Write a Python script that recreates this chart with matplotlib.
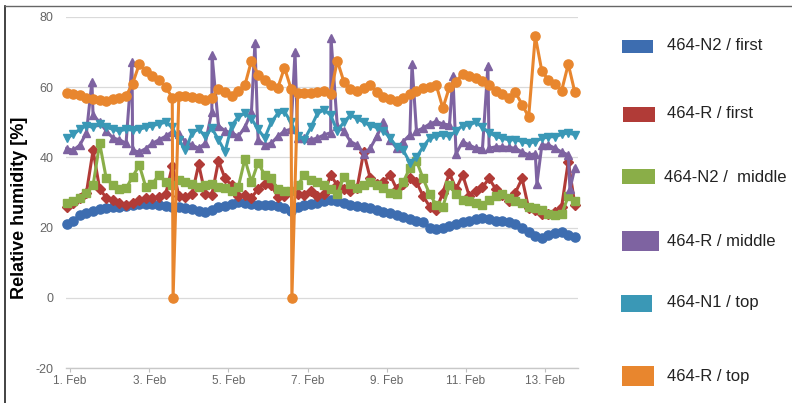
import numpy as np
import matplotlib
matplotlib.use("Agg")
import matplotlib.pyplot as plt
from matplotlib.patches import Rectangle
from matplotlib.lines import Line2D

plt.rcParams['font.family'] = ['Liberation Sans', 'DejaVu Sans']

# ---------------- data ----------------
# readings every 4 hours, starting 31 Jan 22:00 (hours counted from 1 Feb 00:00)
start_hour = -2
step_hours = 4

n2_first = [21, 22, 23.6, 24.2, 24.8, 25.3, 25.5, 26, 26, 26.3,
            26.5, 26.8, 26.8, 26.6, 26.4, 26.2, 26, 25.8, 25.5, 25.3,
            24.8, 24.5, 25, 25.8, 26.2, 26.8, 27.2, 27, 26.8, 26.5,
            26.4, 26.5, 26.2, 25.5, 24.8, 25.8, 26.5, 26.8, 27, 27.5,
            28, 27.5, 27, 26.5, 26.3, 26, 25.5, 25, 24.5, 24.2,
            23.5, 23, 22.5, 22, 21.5, 20, 19.5, 19.8, 20.5, 21,
            21.5, 21.8, 22.5, 22.7, 22.5, 22, 21.8, 21.6, 21, 20,
            18.8, 17.5, 17, 17.8, 18.5, 18.8, 17.8, 17.3]

r_first = [26, 27, 28.5, 30, 42, 31, 28.5, 27.8, 27, 26.5,
           27, 27.8, 28.4, 28.5, 28.7, 29.5, 37.5, 29, 28.7, 29.5,
           38, 29.5, 29.3, 39, 34, 32, 29, 29.3, 28.5, 31,
           32.5, 32, 28.8, 29, 30.3, 29.5, 29.3, 30.5, 29, 29.5,
           35, 32, 31, 30.5, 31.2, 41.5, 34, 32.5, 33, 35,
           31, 32.5, 34, 33, 29, 26, 25, 30, 35.5, 31,
           35, 29, 30.5, 31.5, 34, 31, 29.3, 27.5, 30, 34,
           25.5, 25, 24, 23.8, 24.5, 26, 38.8, 26.5]

n2_middle = [27, 27.5, 28.5, 30, 32, 44, 34, 32.2, 31, 31.2,
             34.5, 37.8, 31.5, 32.5, 35, 33, 32, 33.5, 33, 32.5,
             31.6, 32, 32.5, 31.5, 31.2, 30.5, 31.5, 39.5, 33, 38.5,
             35, 34, 31, 30.5, 30.3, 32, 35, 33.5, 33, 32.2,
             31, 29.5, 34.5, 32.5, 31.2, 32, 33, 32, 31.2, 30,
             29.5, 33, 37, 39, 34, 29.5, 26.5, 26, 32, 29.5,
             28, 27.5, 27, 26.5, 28, 29, 29.5, 28.5, 27.5, 27,
             26, 25.5, 25, 24, 23.6, 23.8, 29, 27.5]

r_middle = [42.5, 42, 43.5, 47, 52, 50, 47.5, 45.5, 45, 44,
            42, 41.5, 42.5, 44, 45, 46, 47.3, 46.5, 44.5, 43.5,
            42.6, 44, 53, 49, 47.5, 47, 46, 48.5, 53, 45,
            43.5, 44, 46, 47.5, 48, 45.5, 45.4, 45, 45.5, 46.4,
            47, 49, 47.5, 44.5, 43.5, 41, 42.6, 46, 50, 45,
            42.6, 44.5, 46.4, 47.5, 48.3, 49.5, 50.2, 49.5, 49.2, 41,
            44.5, 43.5, 42.6, 42.5, 42.6, 43, 43, 42.8, 42.6, 41.5,
            40.7, 41, 43.5, 43.5, 42.6, 41.5, 40.7, 37]

n1_top = [45.5, 46.5, 48, 49, 48.5, 49.5, 48.5, 48, 47.5, 48,
          47.7, 48, 48.5, 49, 49.5, 50, 48.5, 45, 42, 47,
          48, 46, 48.3, 45, 41.6, 49, 51.5, 52.5, 51, 48,
          45.5, 50, 52.5, 53, 50, 46, 45, 48.5, 52.5, 53.5,
          52, 47.5, 50, 52, 51, 50, 49, 48.5, 47.5, 45.5,
          43, 42, 38.5, 40, 43, 45.4, 46, 46.4, 46, 47.5,
          49, 49.2, 50, 48.5, 47, 46, 45.4, 45, 45, 44.5,
          44, 44.5, 45.4, 45.8, 45.9, 46.5, 47, 46.4]

r_top = [58.3, 58, 57.7, 57, 56.5, 56.3, 56, 56.5, 57, 57.5,
         61, 66.5, 64.5, 63, 62, 60, 57, 57.5, 57.5, 57.3,
         57, 56.3, 57, 59.5, 58.5, 57.5, 59, 60.5, 67.5, 63.5,
         62, 60.5, 59.8, 65.5, 59.5, 58.3, 58.2, 58.3, 58.6, 58.8,
         58, 67.5, 61.5, 59.5, 59, 59.8, 60.5, 58.5, 57.3, 56.5,
         56, 57, 58, 59, 59.6, 60, 60.5, 54, 60, 61.5,
         63.8, 63, 62.5, 61.8, 60.5, 59, 58, 56.8, 58.5, 55,
         51.5, 74.5, 64.5, 62, 61, 59, 66.5, 58.5]

# short single readings (spikes) between the 4-hourly readings
r_middle_spike_hours = [13.3, 37.6, 86.1, 112.1, 136.4, 158.2, 207.3, 232.1, 253.3, 283.0, 303.0]
r_middle_spike_values = [61.5, 67, 69, 72.5, 70, 74, 66.5, 63, 66, 32.5, 31]
r_top_spike_hours = [62.5, 134.5]
r_top_spike_values = [0, 0]

series_names = ["464-N2 / first", "464-R / first", "464-N2 /  middle",
                "464-R / middle", "464-N1 / top", "464-R / top"]

tick_hours = [0, 48, 96, 144, 192, 240, 288]
tick_labels = ["1. Feb", "3. Feb", "5. Feb", "7. Feb", "9. Feb", "11. Feb", "13. Feb"]
y_ticks = [-20, 0, 20, 40, 60, 80]

# ---------------- style ----------------
colors = ["#3D6DB0", "#B13B37", "#8AAE48", "#7E63A1", "#3A98B6", "#E8862E"]
markers = ["o", "D", "s", "^", "v", "o"]
msizes = [6.6, 5.4, 5.8, 6.4, 6.4, 6.6]


def with_spikes(hours, values, sh, sv):
    h = np.concatenate([np.asarray(hours, float), np.asarray(sh, float)])
    v = np.concatenate([np.asarray(values, float), np.asarray(sv, float)])
    o = np.argsort(h, kind="stable")
    return h[o], v[o]


W, H = 792, 403
fig = plt.figure(figsize=(W / 100, H / 100), dpi=100)
fig.patch.set_facecolor("white")

left_px, right_px, top_px, bottom_px = 66, 578, 16.7, 368.3
ax = fig.add_axes([left_px / W, 1 - bottom_px / H,
                   (right_px - left_px) / W, (bottom_px - top_px) / H])

base_hours = start_hour + step_hours * np.arange(len(n2_first))
data = [
    (base_hours, np.asarray(n2_first, float)),
    (base_hours, np.asarray(r_first, float)),
    (base_hours, np.asarray(n2_middle, float)),
    with_spikes(base_hours, r_middle, r_middle_spike_hours, r_middle_spike_values),
    (base_hours, np.asarray(n1_top, float)),
    with_spikes(base_hours, r_top, r_top_spike_hours, r_top_spike_values),
]

for i, (h, v) in enumerate(data):
    ax.plot(h, v, color=colors[i], lw=2.2, marker=markers[i], ms=msizes[i],
            mfc=colors[i], mec=colors[i], zorder=3 + i, clip_on=False)

ax.set_xlim(-2.4, 307.9)
ax.set_ylim(-20, 80)
ax.set_yticks(y_ticks)
ax.set_yticklabels([str(t) for t in y_ticks])
ax.set_xticks(tick_hours)
ax.set_xticklabels(tick_labels)

for s in ["top", "right", "left"]:
    ax.spines[s].set_visible(False)
ax.spines["bottom"].set_color("#C8C8C8")
ax.spines["bottom"].set_linewidth(1.0)

ax.yaxis.grid(True, color="#DADADA", lw=0.9)
ax.set_axisbelow(True)
ax.tick_params(axis="y", length=0, pad=9, labelsize=9, labelcolor="#666666")
ax.tick_params(axis="x", direction="out", length=3, width=0.8, color="#C0C0C0",
               pad=1.5, labelsize=8.5, labelcolor="#666666")

ax.set_ylabel("Relative humidity [%]", fontsize=13, fontweight="bold",
              color="black")
ax.yaxis.set_label_coords(-(66 - 28) / (right_px - left_px), (368.3 - 208) / (368.3 - 16.7))

# legend drawn as coloured boxes with text on the right side
leg_y = [46, 114, 177, 241, 303, 376]
rect_x0 = [622, 623, 622, 622, 621, 622]
rect_w = [31, 32, 33, 37, 31, 32]
rect_h = [13, 15, 15, 20, 17, 20]
text_x = [667, 667, 664, 667, 667, 667]
for i in range(6):
    y = leg_y[i]
    r = Rectangle((rect_x0[i] / W, 1 - (y + rect_h[i] / 2) / H),
                  rect_w[i] / W, rect_h[i] / H,
                  transform=fig.transFigure, facecolor=colors[i], edgecolor="none")
    fig.add_artist(r)
    fig.text(text_x[i] / W, 1 - y / H, series_names[i], fontsize=12,
             color="#222222", va="center", ha="left")

# frame lines of the screenshot
fig.add_artist(Line2D([5 / W, 5 / W], [0, 1 - 6 / H], transform=fig.transFigure,
                      color="#222222", lw=1.2))
fig.add_artist(Line2D([5 / W, 1], [1 - 6 / H, 1 - 6 / H], transform=fig.transFigure,
                      color="#666666", lw=1.0))

fig.savefig("out.png", dpi=100, facecolor="white")
